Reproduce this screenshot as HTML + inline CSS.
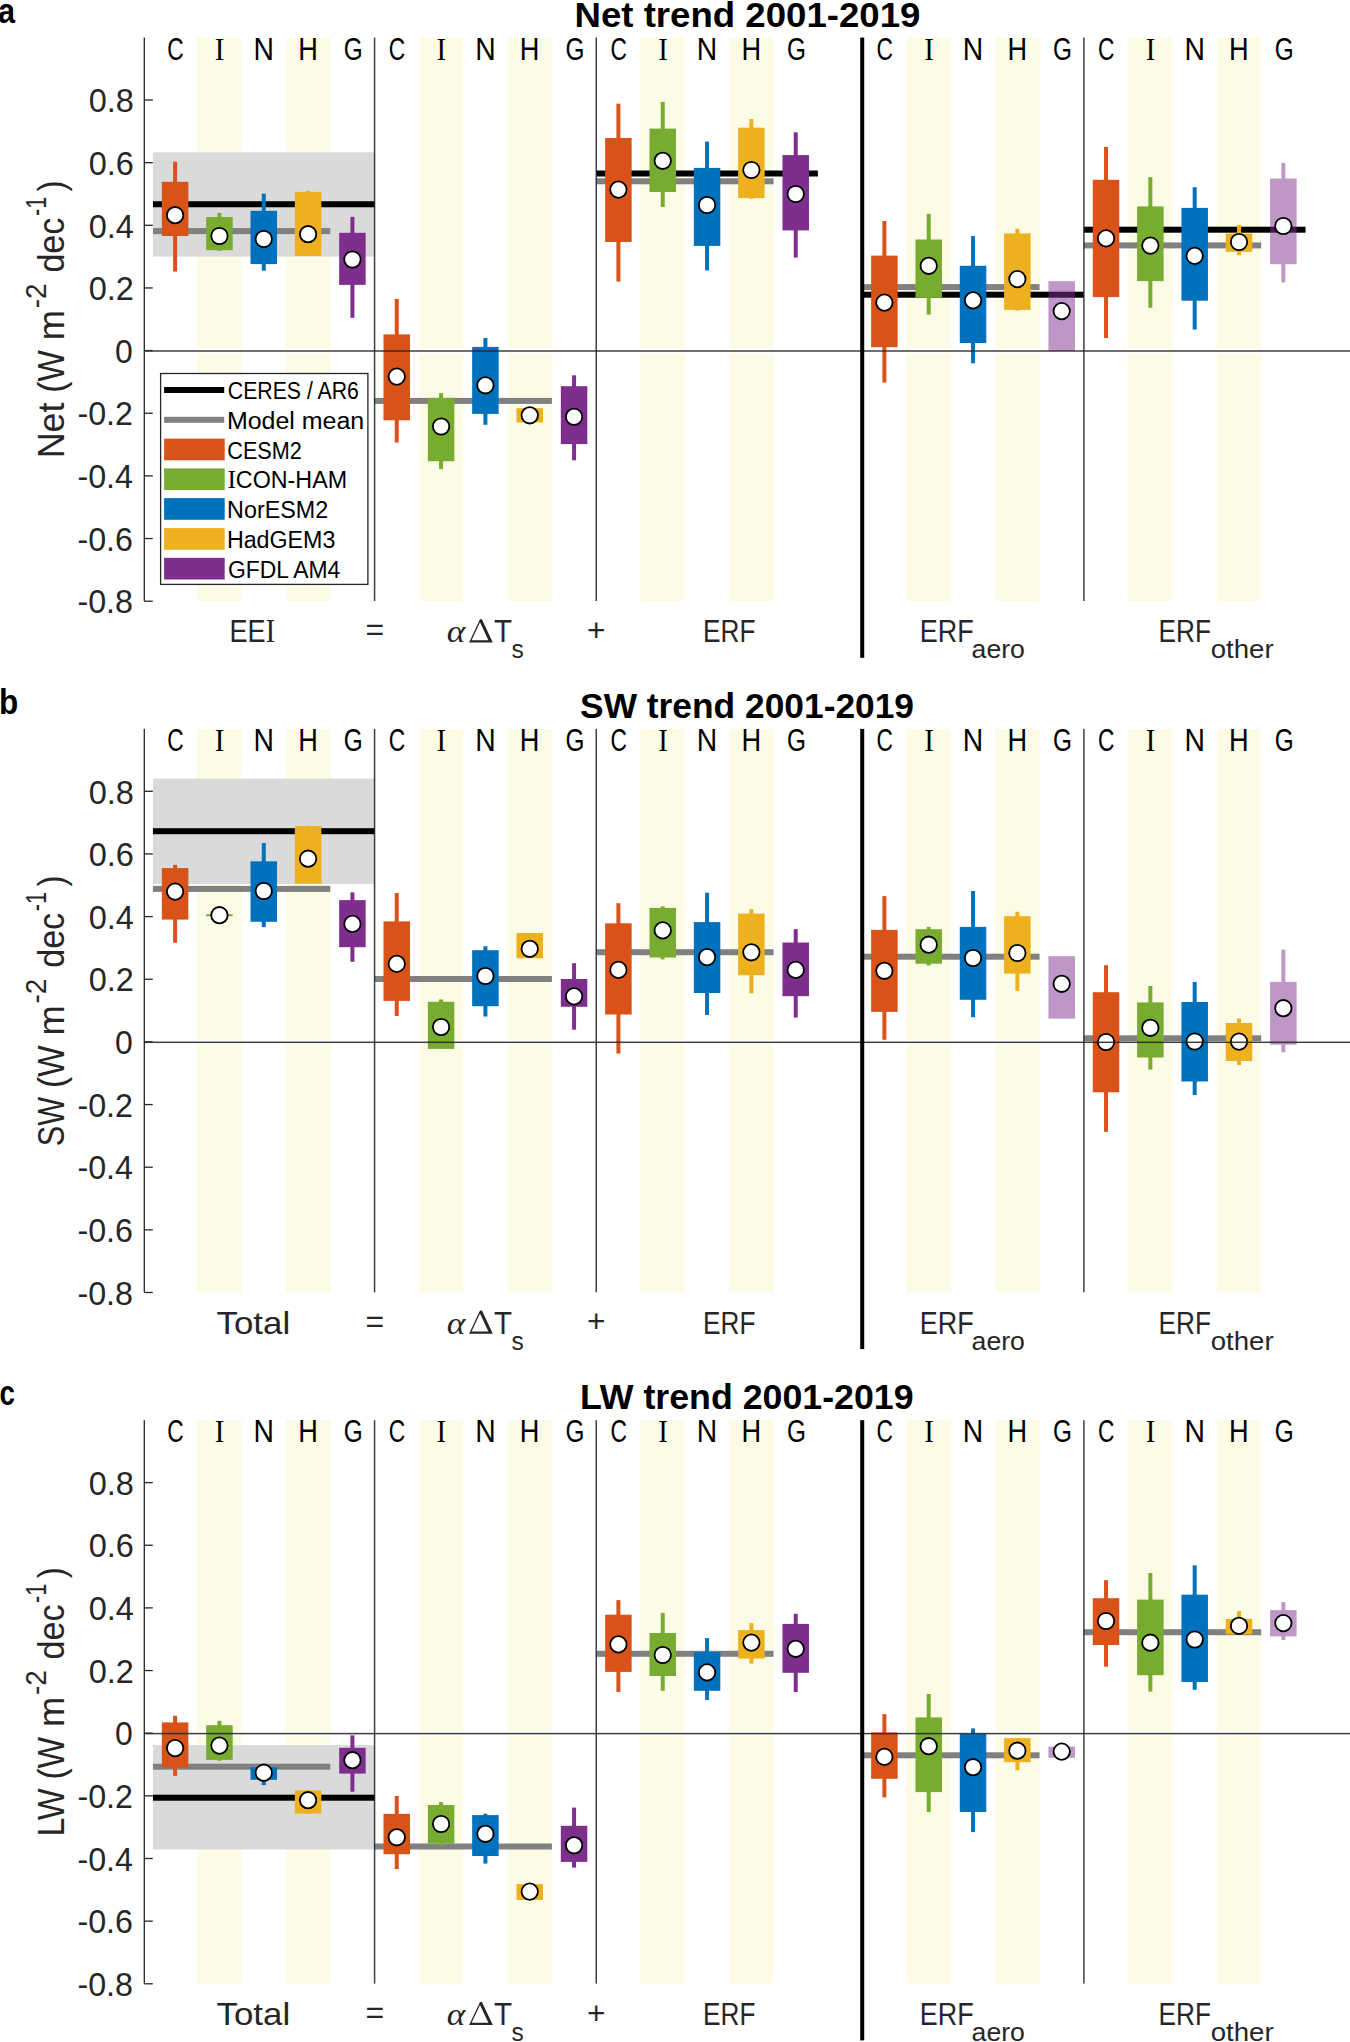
<!DOCTYPE html>
<html><head><meta charset="utf-8"><style>
html,body{margin:0;padding:0;background:#fff;}
svg{display:block;font-family:'Liberation Sans', sans-serif;}
</style></head><body>
<svg width="1350" height="2042" viewBox="0 0 1350 2042">
<rect width="1350" height="2042" fill="#fff"/>
<g>
<rect x="197.27" y="37.6" width="44.33" height="563.4" fill="#FCFBE6"/>
<rect x="197.27" y="348.7" width="44.33" height="4.6" fill="#fff"/>
<rect x="285.93" y="37.6" width="44.33" height="563.4" fill="#FCFBE6"/>
<rect x="285.93" y="348.7" width="44.33" height="4.6" fill="#fff"/>
<rect x="418.92" y="37.6" width="44.33" height="563.4" fill="#FCFBE6"/>
<rect x="418.92" y="348.7" width="44.33" height="4.6" fill="#fff"/>
<rect x="507.57" y="37.6" width="44.33" height="563.4" fill="#FCFBE6"/>
<rect x="507.57" y="348.7" width="44.33" height="4.6" fill="#fff"/>
<rect x="640.57" y="37.6" width="44.33" height="563.4" fill="#FCFBE6"/>
<rect x="640.57" y="348.7" width="44.33" height="4.6" fill="#fff"/>
<rect x="729.23" y="37.6" width="44.33" height="563.4" fill="#FCFBE6"/>
<rect x="729.23" y="348.7" width="44.33" height="4.6" fill="#fff"/>
<rect x="906.55" y="37.6" width="44.33" height="563.4" fill="#FCFBE6"/>
<rect x="906.55" y="348.7" width="44.33" height="4.6" fill="#fff"/>
<rect x="995.21" y="37.6" width="44.33" height="563.4" fill="#FCFBE6"/>
<rect x="995.21" y="348.7" width="44.33" height="4.6" fill="#fff"/>
<rect x="1128.19" y="37.6" width="44.33" height="563.4" fill="#FCFBE6"/>
<rect x="1128.19" y="348.7" width="44.33" height="4.6" fill="#fff"/>
<rect x="1216.86" y="37.6" width="44.33" height="563.4" fill="#FCFBE6"/>
<rect x="1216.86" y="348.7" width="44.33" height="4.6" fill="#fff"/>
<rect x="152.94" y="152.3" width="221.65" height="104.3" fill="#DADADA"/>
<rect x="152.94" y="228.1" width="177.32" height="6" fill="#808080"/>
<rect x="374.58" y="397.9" width="177.32" height="6" fill="#808080"/>
<rect x="596.24" y="178.3" width="177.32" height="6" fill="#808080"/>
<rect x="862.22" y="284.1" width="177.32" height="6" fill="#808080"/>
<rect x="1083.87" y="242.4" width="177.32" height="6" fill="#808080"/>
<rect x="152.94" y="201.25" width="221.65" height="6" fill="#000"/>
<rect x="596.24" y="170.5" width="221.65" height="6" fill="#000"/>
<rect x="862.22" y="291.7" width="221.65" height="6" fill="#000"/>
<rect x="1083.87" y="226.7" width="221.65" height="6" fill="#000"/>
<rect x="173.1" y="161.7" width="4" height="109.9" fill="#D95319"/>
<rect x="161.85" y="181.8" width="26.5" height="54.2" fill="#D95319"/>
<rect x="217.43" y="212.9" width="4" height="37.9" fill="#77AC30"/>
<rect x="206.18" y="217" width="26.5" height="33.2" fill="#77AC30"/>
<rect x="261.76" y="193.7" width="4" height="77" fill="#0072BD"/>
<rect x="250.51" y="210.8" width="26.5" height="53.3" fill="#0072BD"/>
<rect x="306.09" y="191" width="4" height="64.9" fill="#EDB120"/>
<rect x="294.84" y="191.9" width="26.5" height="64" fill="#EDB120"/>
<rect x="350.42" y="216.8" width="4" height="101" fill="#7E2F8E"/>
<rect x="339.17" y="232.8" width="26.5" height="52.1" fill="#7E2F8E"/>
<rect x="394.75" y="298.9" width="4" height="143.6" fill="#D95319"/>
<rect x="383.5" y="334.4" width="26.5" height="85.9" fill="#D95319"/>
<rect x="439.08" y="393.1" width="4" height="75.9" fill="#77AC30"/>
<rect x="427.83" y="397.9" width="26.5" height="63.3" fill="#77AC30"/>
<rect x="483.41" y="338" width="4" height="86.8" fill="#0072BD"/>
<rect x="472.16" y="346.9" width="26.5" height="67" fill="#0072BD"/>
<rect x="527.74" y="408.2" width="4" height="14.2" fill="#EDB120"/>
<rect x="516.49" y="408.2" width="26.5" height="14.2" fill="#EDB120"/>
<rect x="572.07" y="375.3" width="4" height="85" fill="#7E2F8E"/>
<rect x="560.82" y="386.2" width="26.5" height="57.9" fill="#7E2F8E"/>
<rect x="616.4" y="103.7" width="4" height="177.9" fill="#D95319"/>
<rect x="605.15" y="138" width="26.5" height="104" fill="#D95319"/>
<rect x="660.73" y="101.9" width="4" height="105.1" fill="#77AC30"/>
<rect x="649.48" y="128.6" width="26.5" height="63.4" fill="#77AC30"/>
<rect x="705.06" y="141.6" width="4" height="128.8" fill="#0072BD"/>
<rect x="693.81" y="167.9" width="26.5" height="78" fill="#0072BD"/>
<rect x="749.39" y="119" width="4" height="79.8" fill="#EDB120"/>
<rect x="738.14" y="127.7" width="26.5" height="70.4" fill="#EDB120"/>
<rect x="793.72" y="132.3" width="4" height="125.3" fill="#7E2F8E"/>
<rect x="782.47" y="155.1" width="26.5" height="75.3" fill="#7E2F8E"/>
<rect x="882.38" y="221" width="4" height="161.6" fill="#D95319"/>
<rect x="871.13" y="255.6" width="26.5" height="91.6" fill="#D95319"/>
<rect x="926.71" y="213.9" width="4" height="100.8" fill="#77AC30"/>
<rect x="915.46" y="239.5" width="26.5" height="58.3" fill="#77AC30"/>
<rect x="971.04" y="236.1" width="4" height="127.1" fill="#0072BD"/>
<rect x="959.79" y="265.8" width="26.5" height="77.3" fill="#0072BD"/>
<rect x="1015.37" y="228.8" width="4" height="81.8" fill="#EDB120"/>
<rect x="1004.12" y="233.4" width="26.5" height="76.5" fill="#EDB120"/>
<rect x="1048.45" y="281.2" width="26.5" height="69.9" fill="#7E2F8E" fill-opacity="0.5"/>
<rect x="1104.03" y="146.9" width="4" height="191.1" fill="#D95319"/>
<rect x="1092.78" y="179.8" width="26.5" height="117.3" fill="#D95319"/>
<rect x="1148.36" y="177.1" width="4" height="130.7" fill="#77AC30"/>
<rect x="1137.11" y="206.4" width="26.5" height="74.7" fill="#77AC30"/>
<rect x="1192.69" y="187.2" width="4" height="142.3" fill="#0072BD"/>
<rect x="1181.44" y="207.9" width="26.5" height="92.8" fill="#0072BD"/>
<rect x="1237.02" y="225.1" width="4" height="30.2" fill="#EDB120"/>
<rect x="1225.77" y="233.6" width="26.5" height="18.2" fill="#EDB120"/>
<rect x="1281.35" y="162.9" width="4" height="15.6" fill="#7E2F8E" fill-opacity="0.5"/>
<rect x="1281.35" y="264.2" width="4" height="18.3" fill="#7E2F8E" fill-opacity="0.5"/>
<rect x="1270.1" y="178.5" width="26.5" height="85.7" fill="#7E2F8E" fill-opacity="0.5"/>
<circle cx="175.1" cy="215.2" r="8.2" fill="#fff" stroke="#000" stroke-width="1.8"/>
<circle cx="219.43" cy="236" r="8.2" fill="#fff" stroke="#000" stroke-width="1.8"/>
<circle cx="263.76" cy="239" r="8.2" fill="#fff" stroke="#000" stroke-width="1.8"/>
<circle cx="308.09" cy="234.2" r="8.2" fill="#fff" stroke="#000" stroke-width="1.8"/>
<circle cx="352.42" cy="259.5" r="8.2" fill="#fff" stroke="#000" stroke-width="1.8"/>
<circle cx="396.75" cy="376.6" r="8.2" fill="#fff" stroke="#000" stroke-width="1.8"/>
<circle cx="441.08" cy="426.5" r="8.2" fill="#fff" stroke="#000" stroke-width="1.8"/>
<circle cx="485.41" cy="385.3" r="8.2" fill="#fff" stroke="#000" stroke-width="1.8"/>
<circle cx="529.74" cy="415.3" r="8.2" fill="#fff" stroke="#000" stroke-width="1.8"/>
<circle cx="574.07" cy="416.8" r="8.2" fill="#fff" stroke="#000" stroke-width="1.8"/>
<circle cx="618.4" cy="189.6" r="8.2" fill="#fff" stroke="#000" stroke-width="1.8"/>
<circle cx="662.73" cy="160.8" r="8.2" fill="#fff" stroke="#000" stroke-width="1.8"/>
<circle cx="707.06" cy="205" r="8.2" fill="#fff" stroke="#000" stroke-width="1.8"/>
<circle cx="751.39" cy="170" r="8.2" fill="#fff" stroke="#000" stroke-width="1.8"/>
<circle cx="795.72" cy="194" r="8.2" fill="#fff" stroke="#000" stroke-width="1.8"/>
<circle cx="884.38" cy="302.6" r="8.2" fill="#fff" stroke="#000" stroke-width="1.8"/>
<circle cx="928.71" cy="265.8" r="8.2" fill="#fff" stroke="#000" stroke-width="1.8"/>
<circle cx="973.04" cy="300.4" r="8.2" fill="#fff" stroke="#000" stroke-width="1.8"/>
<circle cx="1017.37" cy="279.1" r="8.2" fill="#fff" stroke="#000" stroke-width="1.8"/>
<circle cx="1061.7" cy="311.1" r="8.2" fill="#fff" stroke="#000" stroke-width="1.8"/>
<circle cx="1106.03" cy="238.4" r="8.2" fill="#fff" stroke="#000" stroke-width="1.8"/>
<circle cx="1150.36" cy="245.6" r="8.2" fill="#fff" stroke="#000" stroke-width="1.8"/>
<circle cx="1194.69" cy="255.9" r="8.2" fill="#fff" stroke="#000" stroke-width="1.8"/>
<circle cx="1239.02" cy="242" r="8.2" fill="#fff" stroke="#000" stroke-width="1.8"/>
<circle cx="1283.35" cy="226" r="8.2" fill="#fff" stroke="#000" stroke-width="1.8"/>
<rect x="144.3" y="350.25" width="1205.7" height="1.5" fill="#262626" fill-opacity="0.88"/>
<rect x="373.83" y="37.6" width="1.5" height="563.4" fill="#262626" fill-opacity="0.88"/>
<rect x="595.49" y="37.6" width="1.5" height="563.4" fill="#262626" fill-opacity="0.88"/>
<rect x="1083.12" y="37.6" width="1.5" height="563.4" fill="#262626" fill-opacity="0.88"/>
<rect x="860.22" y="37.6" width="4" height="620.2" fill="#000"/>
<rect x="143.65" y="37.6" width="1.3" height="563.4" fill="#262626"/>
<rect x="144.3" y="600.55" width="8.5" height="1.3" fill="#262626"/>
<rect x="144.3" y="537.9" width="8.5" height="1.3" fill="#262626"/>
<rect x="144.3" y="475.25" width="8.5" height="1.3" fill="#262626"/>
<rect x="144.3" y="412.6" width="8.5" height="1.3" fill="#262626"/>
<rect x="144.3" y="349.95" width="8.5" height="1.3" fill="#262626"/>
<rect x="144.3" y="287.3" width="8.5" height="1.3" fill="#262626"/>
<rect x="144.3" y="224.65" width="8.5" height="1.3" fill="#262626"/>
<rect x="144.3" y="162" width="8.5" height="1.3" fill="#262626"/>
<rect x="144.3" y="99.35" width="8.5" height="1.3" fill="#262626"/>
</g>
<g>
<rect x="197.27" y="728.9" width="44.33" height="563.4" fill="#FCFBE6"/>
<rect x="197.27" y="1040" width="44.33" height="4.6" fill="#fff"/>
<rect x="285.93" y="728.9" width="44.33" height="563.4" fill="#FCFBE6"/>
<rect x="285.93" y="1040" width="44.33" height="4.6" fill="#fff"/>
<rect x="418.92" y="728.9" width="44.33" height="563.4" fill="#FCFBE6"/>
<rect x="418.92" y="1040" width="44.33" height="4.6" fill="#fff"/>
<rect x="507.57" y="728.9" width="44.33" height="563.4" fill="#FCFBE6"/>
<rect x="507.57" y="1040" width="44.33" height="4.6" fill="#fff"/>
<rect x="640.57" y="728.9" width="44.33" height="563.4" fill="#FCFBE6"/>
<rect x="640.57" y="1040" width="44.33" height="4.6" fill="#fff"/>
<rect x="729.23" y="728.9" width="44.33" height="563.4" fill="#FCFBE6"/>
<rect x="729.23" y="1040" width="44.33" height="4.6" fill="#fff"/>
<rect x="906.55" y="728.9" width="44.33" height="563.4" fill="#FCFBE6"/>
<rect x="906.55" y="1040" width="44.33" height="4.6" fill="#fff"/>
<rect x="995.21" y="728.9" width="44.33" height="563.4" fill="#FCFBE6"/>
<rect x="995.21" y="1040" width="44.33" height="4.6" fill="#fff"/>
<rect x="1128.19" y="728.9" width="44.33" height="563.4" fill="#FCFBE6"/>
<rect x="1128.19" y="1040" width="44.33" height="4.6" fill="#fff"/>
<rect x="1216.86" y="728.9" width="44.33" height="563.4" fill="#FCFBE6"/>
<rect x="1216.86" y="1040" width="44.33" height="4.6" fill="#fff"/>
<rect x="152.94" y="778.7" width="221.65" height="105.2" fill="#DADADA"/>
<rect x="152.94" y="885.9" width="177.32" height="6" fill="#808080"/>
<rect x="374.58" y="976" width="177.32" height="6" fill="#808080"/>
<rect x="596.24" y="949.2" width="177.32" height="6" fill="#808080"/>
<rect x="862.22" y="953.7" width="177.32" height="6" fill="#808080"/>
<rect x="1083.87" y="1035.3" width="177.32" height="6" fill="#808080"/>
<rect x="152.94" y="828.2" width="221.65" height="6" fill="#000"/>
<rect x="173.1" y="864.9" width="4" height="77.9" fill="#D95319"/>
<rect x="161.85" y="868.1" width="26.5" height="51.5" fill="#D95319"/>
<rect x="217.43" y="914.2" width="4" height="2" fill="#77AC30"/>
<rect x="206.18" y="914.2" width="26.5" height="2" fill="#77AC30"/>
<rect x="261.76" y="843" width="4" height="84.1" fill="#0072BD"/>
<rect x="250.51" y="861.3" width="26.5" height="60.5" fill="#0072BD"/>
<rect x="306.09" y="825.8" width="4" height="57.8" fill="#EDB120"/>
<rect x="294.84" y="826.1" width="26.5" height="57.5" fill="#EDB120"/>
<rect x="350.42" y="892.4" width="4" height="69.4" fill="#7E2F8E"/>
<rect x="339.17" y="900.1" width="26.5" height="47.1" fill="#7E2F8E"/>
<rect x="394.75" y="893" width="4" height="123" fill="#D95319"/>
<rect x="383.5" y="921.4" width="26.5" height="79.5" fill="#D95319"/>
<rect x="439.08" y="999.5" width="4" height="49.4" fill="#77AC30"/>
<rect x="427.83" y="1001.8" width="26.5" height="47.1" fill="#77AC30"/>
<rect x="483.41" y="946.3" width="4" height="70.2" fill="#0072BD"/>
<rect x="472.16" y="950.2" width="26.5" height="56" fill="#0072BD"/>
<rect x="527.74" y="933" width="4" height="25.2" fill="#EDB120"/>
<rect x="516.49" y="933" width="26.5" height="25.2" fill="#EDB120"/>
<rect x="572.07" y="963.2" width="4" height="66.5" fill="#7E2F8E"/>
<rect x="560.82" y="979" width="26.5" height="27.8" fill="#7E2F8E"/>
<rect x="616.4" y="903.2" width="4" height="150.4" fill="#D95319"/>
<rect x="605.15" y="923.3" width="26.5" height="91.2" fill="#D95319"/>
<rect x="660.73" y="906.4" width="4" height="53" fill="#77AC30"/>
<rect x="649.48" y="907.9" width="26.5" height="49.6" fill="#77AC30"/>
<rect x="705.06" y="892.8" width="4" height="122.1" fill="#0072BD"/>
<rect x="693.81" y="922.1" width="26.5" height="70.9" fill="#0072BD"/>
<rect x="749.39" y="909.1" width="4" height="84.1" fill="#EDB120"/>
<rect x="738.14" y="913.6" width="26.5" height="61.6" fill="#EDB120"/>
<rect x="793.72" y="929.2" width="4" height="88.4" fill="#7E2F8E"/>
<rect x="782.47" y="942.5" width="26.5" height="53.7" fill="#7E2F8E"/>
<rect x="882.38" y="896.1" width="4" height="143.7" fill="#D95319"/>
<rect x="871.13" y="929.9" width="26.5" height="82" fill="#D95319"/>
<rect x="926.71" y="926.9" width="4" height="38.6" fill="#77AC30"/>
<rect x="915.46" y="929.2" width="26.5" height="34.5" fill="#77AC30"/>
<rect x="971.04" y="891" width="4" height="126.2" fill="#0072BD"/>
<rect x="959.79" y="926.9" width="26.5" height="72.9" fill="#0072BD"/>
<rect x="1015.37" y="911.8" width="4" height="79.1" fill="#EDB120"/>
<rect x="1004.12" y="916.2" width="26.5" height="57.4" fill="#EDB120"/>
<rect x="1048.45" y="956.2" width="26.5" height="62.4" fill="#7E2F8E" fill-opacity="0.5"/>
<rect x="1104.03" y="965.2" width="4" height="166.7" fill="#D95319"/>
<rect x="1092.78" y="992.2" width="26.5" height="100.1" fill="#D95319"/>
<rect x="1148.36" y="986" width="4" height="83.6" fill="#77AC30"/>
<rect x="1137.11" y="1002.4" width="26.5" height="55.1" fill="#77AC30"/>
<rect x="1192.69" y="981.9" width="4" height="113.1" fill="#0072BD"/>
<rect x="1181.44" y="1002" width="26.5" height="79.5" fill="#0072BD"/>
<rect x="1237.02" y="1018.5" width="4" height="46.6" fill="#EDB120"/>
<rect x="1225.77" y="1023" width="26.5" height="38" fill="#EDB120"/>
<rect x="1281.35" y="949.6" width="4" height="32.3" fill="#7E2F8E" fill-opacity="0.5"/>
<rect x="1281.35" y="1044.7" width="4" height="7.6" fill="#7E2F8E" fill-opacity="0.5"/>
<rect x="1270.1" y="981.9" width="26.5" height="62.8" fill="#7E2F8E" fill-opacity="0.5"/>
<circle cx="175.1" cy="891.6" r="8.2" fill="#fff" stroke="#000" stroke-width="1.8"/>
<circle cx="219.43" cy="915.2" r="8.2" fill="#fff" stroke="#000" stroke-width="1.8"/>
<circle cx="263.76" cy="891" r="8.2" fill="#fff" stroke="#000" stroke-width="1.8"/>
<circle cx="308.09" cy="858.7" r="8.2" fill="#fff" stroke="#000" stroke-width="1.8"/>
<circle cx="352.42" cy="923.9" r="8.2" fill="#fff" stroke="#000" stroke-width="1.8"/>
<circle cx="396.75" cy="963.9" r="8.2" fill="#fff" stroke="#000" stroke-width="1.8"/>
<circle cx="441.08" cy="1027" r="8.2" fill="#fff" stroke="#000" stroke-width="1.8"/>
<circle cx="485.41" cy="976" r="8.2" fill="#fff" stroke="#000" stroke-width="1.8"/>
<circle cx="529.74" cy="948.8" r="8.2" fill="#fff" stroke="#000" stroke-width="1.8"/>
<circle cx="574.07" cy="996.4" r="8.2" fill="#fff" stroke="#000" stroke-width="1.8"/>
<circle cx="618.4" cy="969.9" r="8.2" fill="#fff" stroke="#000" stroke-width="1.8"/>
<circle cx="662.73" cy="930.4" r="8.2" fill="#fff" stroke="#000" stroke-width="1.8"/>
<circle cx="707.06" cy="957.1" r="8.2" fill="#fff" stroke="#000" stroke-width="1.8"/>
<circle cx="751.39" cy="952.3" r="8.2" fill="#fff" stroke="#000" stroke-width="1.8"/>
<circle cx="795.72" cy="969.9" r="8.2" fill="#fff" stroke="#000" stroke-width="1.8"/>
<circle cx="884.38" cy="970.8" r="8.2" fill="#fff" stroke="#000" stroke-width="1.8"/>
<circle cx="928.71" cy="944.7" r="8.2" fill="#fff" stroke="#000" stroke-width="1.8"/>
<circle cx="973.04" cy="958" r="8.2" fill="#fff" stroke="#000" stroke-width="1.8"/>
<circle cx="1017.37" cy="953" r="8.2" fill="#fff" stroke="#000" stroke-width="1.8"/>
<circle cx="1061.7" cy="983.8" r="8.2" fill="#fff" stroke="#000" stroke-width="1.8"/>
<circle cx="1106.03" cy="1042" r="8.2" fill="#fff" stroke="#000" stroke-width="1.8"/>
<circle cx="1150.36" cy="1027.8" r="8.2" fill="#fff" stroke="#000" stroke-width="1.8"/>
<circle cx="1194.69" cy="1041.5" r="8.2" fill="#fff" stroke="#000" stroke-width="1.8"/>
<circle cx="1239.02" cy="1041.6" r="8.2" fill="#fff" stroke="#000" stroke-width="1.8"/>
<circle cx="1283.35" cy="1008.2" r="8.2" fill="#fff" stroke="#000" stroke-width="1.8"/>
<rect x="144.3" y="1041.55" width="1205.7" height="1.5" fill="#262626" fill-opacity="0.88"/>
<rect x="373.83" y="728.9" width="1.5" height="563.4" fill="#262626" fill-opacity="0.88"/>
<rect x="595.49" y="728.9" width="1.5" height="563.4" fill="#262626" fill-opacity="0.88"/>
<rect x="1083.12" y="728.9" width="1.5" height="563.4" fill="#262626" fill-opacity="0.88"/>
<rect x="860.22" y="728.9" width="4" height="620.2" fill="#000"/>
<rect x="143.65" y="728.9" width="1.3" height="563.4" fill="#262626"/>
<rect x="144.3" y="1291.85" width="8.5" height="1.3" fill="#262626"/>
<rect x="144.3" y="1229.2" width="8.5" height="1.3" fill="#262626"/>
<rect x="144.3" y="1166.55" width="8.5" height="1.3" fill="#262626"/>
<rect x="144.3" y="1103.9" width="8.5" height="1.3" fill="#262626"/>
<rect x="144.3" y="1041.25" width="8.5" height="1.3" fill="#262626"/>
<rect x="144.3" y="978.6" width="8.5" height="1.3" fill="#262626"/>
<rect x="144.3" y="915.95" width="8.5" height="1.3" fill="#262626"/>
<rect x="144.3" y="853.3" width="8.5" height="1.3" fill="#262626"/>
<rect x="144.3" y="790.65" width="8.5" height="1.3" fill="#262626"/>
</g>
<g>
<rect x="197.27" y="1420.2" width="44.33" height="563.4" fill="#FCFBE6"/>
<rect x="197.27" y="1731.3" width="44.33" height="4.6" fill="#fff"/>
<rect x="285.93" y="1420.2" width="44.33" height="563.4" fill="#FCFBE6"/>
<rect x="285.93" y="1731.3" width="44.33" height="4.6" fill="#fff"/>
<rect x="418.92" y="1420.2" width="44.33" height="563.4" fill="#FCFBE6"/>
<rect x="418.92" y="1731.3" width="44.33" height="4.6" fill="#fff"/>
<rect x="507.57" y="1420.2" width="44.33" height="563.4" fill="#FCFBE6"/>
<rect x="507.57" y="1731.3" width="44.33" height="4.6" fill="#fff"/>
<rect x="640.57" y="1420.2" width="44.33" height="563.4" fill="#FCFBE6"/>
<rect x="640.57" y="1731.3" width="44.33" height="4.6" fill="#fff"/>
<rect x="729.23" y="1420.2" width="44.33" height="563.4" fill="#FCFBE6"/>
<rect x="729.23" y="1731.3" width="44.33" height="4.6" fill="#fff"/>
<rect x="906.55" y="1420.2" width="44.33" height="563.4" fill="#FCFBE6"/>
<rect x="906.55" y="1731.3" width="44.33" height="4.6" fill="#fff"/>
<rect x="995.21" y="1420.2" width="44.33" height="563.4" fill="#FCFBE6"/>
<rect x="995.21" y="1731.3" width="44.33" height="4.6" fill="#fff"/>
<rect x="1128.19" y="1420.2" width="44.33" height="563.4" fill="#FCFBE6"/>
<rect x="1128.19" y="1731.3" width="44.33" height="4.6" fill="#fff"/>
<rect x="1216.86" y="1420.2" width="44.33" height="563.4" fill="#FCFBE6"/>
<rect x="1216.86" y="1731.3" width="44.33" height="4.6" fill="#fff"/>
<rect x="152.94" y="1745.1" width="221.65" height="104.4" fill="#DADADA"/>
<rect x="152.94" y="1763.7" width="177.32" height="6" fill="#808080"/>
<rect x="374.58" y="1843.5" width="177.32" height="6" fill="#808080"/>
<rect x="596.24" y="1650.8" width="177.32" height="6" fill="#808080"/>
<rect x="862.22" y="1752.3" width="177.32" height="6" fill="#808080"/>
<rect x="1083.87" y="1629.2" width="177.32" height="6" fill="#808080"/>
<rect x="152.94" y="1794.7" width="221.65" height="6" fill="#000"/>
<rect x="173.1" y="1715.8" width="4" height="60.1" fill="#D95319"/>
<rect x="161.85" y="1722.4" width="26.5" height="45.3" fill="#D95319"/>
<rect x="217.43" y="1720.8" width="4" height="40" fill="#77AC30"/>
<rect x="206.18" y="1725.2" width="26.5" height="34.7" fill="#77AC30"/>
<rect x="261.76" y="1767.3" width="4" height="17.8" fill="#0072BD"/>
<rect x="250.51" y="1767.3" width="26.5" height="12.5" fill="#0072BD"/>
<rect x="306.09" y="1790.4" width="4" height="23.2" fill="#EDB120"/>
<rect x="294.84" y="1790.4" width="26.5" height="23.2" fill="#EDB120"/>
<rect x="350.42" y="1735.3" width="4" height="56.4" fill="#7E2F8E"/>
<rect x="339.17" y="1747.8" width="26.5" height="25.8" fill="#7E2F8E"/>
<rect x="394.75" y="1795.9" width="4" height="73.1" fill="#D95319"/>
<rect x="383.5" y="1813.9" width="26.5" height="40.3" fill="#D95319"/>
<rect x="439.08" y="1802.1" width="4" height="44.1" fill="#77AC30"/>
<rect x="427.83" y="1805" width="26.5" height="38.6" fill="#77AC30"/>
<rect x="483.41" y="1813.7" width="4" height="49.9" fill="#0072BD"/>
<rect x="472.16" y="1815.1" width="26.5" height="40.9" fill="#0072BD"/>
<rect x="527.74" y="1884.1" width="4" height="15.8" fill="#EDB120"/>
<rect x="516.49" y="1884.1" width="26.5" height="15.8" fill="#EDB120"/>
<rect x="572.07" y="1807.6" width="4" height="60" fill="#7E2F8E"/>
<rect x="560.82" y="1825.8" width="26.5" height="36.1" fill="#7E2F8E"/>
<rect x="616.4" y="1600.1" width="4" height="91.9" fill="#D95319"/>
<rect x="605.15" y="1614.7" width="26.5" height="57.2" fill="#D95319"/>
<rect x="660.73" y="1612.9" width="4" height="77.9" fill="#77AC30"/>
<rect x="649.48" y="1633" width="26.5" height="43" fill="#77AC30"/>
<rect x="705.06" y="1638.1" width="4" height="61.9" fill="#0072BD"/>
<rect x="693.81" y="1652" width="26.5" height="38.8" fill="#0072BD"/>
<rect x="749.39" y="1623.2" width="4" height="40.4" fill="#EDB120"/>
<rect x="738.14" y="1630.1" width="26.5" height="28.5" fill="#EDB120"/>
<rect x="793.72" y="1613.8" width="4" height="78.2" fill="#7E2F8E"/>
<rect x="782.47" y="1623.9" width="26.5" height="48.9" fill="#7E2F8E"/>
<rect x="882.38" y="1714.2" width="4" height="83.2" fill="#D95319"/>
<rect x="871.13" y="1732.4" width="26.5" height="46.4" fill="#D95319"/>
<rect x="926.71" y="1694" width="4" height="118" fill="#77AC30"/>
<rect x="915.46" y="1717.4" width="26.5" height="74.7" fill="#77AC30"/>
<rect x="971.04" y="1728.4" width="4" height="103.7" fill="#0072BD"/>
<rect x="959.79" y="1733.8" width="26.5" height="78.2" fill="#0072BD"/>
<rect x="1015.37" y="1738.2" width="4" height="32" fill="#EDB120"/>
<rect x="1004.12" y="1738.2" width="26.5" height="24" fill="#EDB120"/>
<rect x="1048.45" y="1746.6" width="26.5" height="11.2" fill="#7E2F8E" fill-opacity="0.5"/>
<rect x="1104.03" y="1580.1" width="4" height="86.6" fill="#D95319"/>
<rect x="1092.78" y="1598.2" width="26.5" height="46.8" fill="#D95319"/>
<rect x="1148.36" y="1573" width="4" height="118.6" fill="#77AC30"/>
<rect x="1137.11" y="1599.6" width="26.5" height="75.6" fill="#77AC30"/>
<rect x="1192.69" y="1565.3" width="4" height="124.5" fill="#0072BD"/>
<rect x="1181.44" y="1594.7" width="26.5" height="87.3" fill="#0072BD"/>
<rect x="1237.02" y="1611" width="4" height="23.3" fill="#EDB120"/>
<rect x="1225.77" y="1619" width="26.5" height="15.3" fill="#EDB120"/>
<rect x="1281.35" y="1602.1" width="4" height="8" fill="#7E2F8E" fill-opacity="0.5"/>
<rect x="1281.35" y="1636.4" width="4" height="3.6" fill="#7E2F8E" fill-opacity="0.5"/>
<rect x="1270.1" y="1610.1" width="26.5" height="26.3" fill="#7E2F8E" fill-opacity="0.5"/>
<circle cx="175.1" cy="1748.1" r="8.2" fill="#fff" stroke="#000" stroke-width="1.8"/>
<circle cx="219.43" cy="1745.6" r="8.2" fill="#fff" stroke="#000" stroke-width="1.8"/>
<circle cx="263.76" cy="1772.7" r="8.2" fill="#fff" stroke="#000" stroke-width="1.8"/>
<circle cx="308.09" cy="1800.2" r="8.2" fill="#fff" stroke="#000" stroke-width="1.8"/>
<circle cx="352.42" cy="1760.2" r="8.2" fill="#fff" stroke="#000" stroke-width="1.8"/>
<circle cx="396.75" cy="1837.3" r="8.2" fill="#fff" stroke="#000" stroke-width="1.8"/>
<circle cx="441.08" cy="1824" r="8.2" fill="#fff" stroke="#000" stroke-width="1.8"/>
<circle cx="485.41" cy="1833.8" r="8.2" fill="#fff" stroke="#000" stroke-width="1.8"/>
<circle cx="529.74" cy="1891.6" r="8.2" fill="#fff" stroke="#000" stroke-width="1.8"/>
<circle cx="574.07" cy="1845.3" r="8.2" fill="#fff" stroke="#000" stroke-width="1.8"/>
<circle cx="618.4" cy="1644.4" r="8.2" fill="#fff" stroke="#000" stroke-width="1.8"/>
<circle cx="662.73" cy="1655" r="8.2" fill="#fff" stroke="#000" stroke-width="1.8"/>
<circle cx="707.06" cy="1672.4" r="8.2" fill="#fff" stroke="#000" stroke-width="1.8"/>
<circle cx="751.39" cy="1642.6" r="8.2" fill="#fff" stroke="#000" stroke-width="1.8"/>
<circle cx="795.72" cy="1648.8" r="8.2" fill="#fff" stroke="#000" stroke-width="1.8"/>
<circle cx="884.38" cy="1756.9" r="8.2" fill="#fff" stroke="#000" stroke-width="1.8"/>
<circle cx="928.71" cy="1746.2" r="8.2" fill="#fff" stroke="#000" stroke-width="1.8"/>
<circle cx="973.04" cy="1767.2" r="8.2" fill="#fff" stroke="#000" stroke-width="1.8"/>
<circle cx="1017.37" cy="1750.7" r="8.2" fill="#fff" stroke="#000" stroke-width="1.8"/>
<circle cx="1061.7" cy="1751.6" r="8.2" fill="#fff" stroke="#000" stroke-width="1.8"/>
<circle cx="1106.03" cy="1621" r="8.2" fill="#fff" stroke="#000" stroke-width="1.8"/>
<circle cx="1150.36" cy="1642.7" r="8.2" fill="#fff" stroke="#000" stroke-width="1.8"/>
<circle cx="1194.69" cy="1639.5" r="8.2" fill="#fff" stroke="#000" stroke-width="1.8"/>
<circle cx="1239.02" cy="1625.8" r="8.2" fill="#fff" stroke="#000" stroke-width="1.8"/>
<circle cx="1283.35" cy="1623.1" r="8.2" fill="#fff" stroke="#000" stroke-width="1.8"/>
<rect x="144.3" y="1732.85" width="1205.7" height="1.5" fill="#262626" fill-opacity="0.88"/>
<rect x="373.83" y="1420.2" width="1.5" height="563.4" fill="#262626" fill-opacity="0.88"/>
<rect x="595.49" y="1420.2" width="1.5" height="563.4" fill="#262626" fill-opacity="0.88"/>
<rect x="1083.12" y="1420.2" width="1.5" height="563.4" fill="#262626" fill-opacity="0.88"/>
<rect x="860.22" y="1420.2" width="4" height="620.2" fill="#000"/>
<rect x="143.65" y="1420.2" width="1.3" height="563.4" fill="#262626"/>
<rect x="144.3" y="1983.15" width="8.5" height="1.3" fill="#262626"/>
<rect x="144.3" y="1920.5" width="8.5" height="1.3" fill="#262626"/>
<rect x="144.3" y="1857.85" width="8.5" height="1.3" fill="#262626"/>
<rect x="144.3" y="1795.2" width="8.5" height="1.3" fill="#262626"/>
<rect x="144.3" y="1732.55" width="8.5" height="1.3" fill="#262626"/>
<rect x="144.3" y="1669.9" width="8.5" height="1.3" fill="#262626"/>
<rect x="144.3" y="1607.25" width="8.5" height="1.3" fill="#262626"/>
<rect x="144.3" y="1544.6" width="8.5" height="1.3" fill="#262626"/>
<rect x="144.3" y="1481.95" width="8.5" height="1.3" fill="#262626"/>
</g>
<rect x="160.6" y="373.5" width="207.3" height="210.9" fill="#fff" stroke="#262626" stroke-width="1.3"/>
<rect x="164.1" y="387" width="60.1" height="6" fill="#000"/>
<rect x="164.1" y="416.8" width="60.1" height="6" fill="#808080"/>
<rect x="164.1" y="438.6" width="60.6" height="21.7" fill="#D95319"/>
<rect x="164.1" y="468.4" width="60.6" height="21.7" fill="#77AC30"/>
<rect x="164.1" y="498.1" width="60.6" height="21.7" fill="#0072BD"/>
<rect x="164.1" y="528.1" width="60.6" height="21.7" fill="#EDB120"/>
<rect x="164.1" y="557.8" width="60.6" height="21.7" fill="#7E2F8E"/>
<text x="574.5" y="26.7" font-size="35" font-weight="bold" textLength="345.87" lengthAdjust="spacingAndGlyphs" fill="#000">Net trend 2001-2019</text>
<text x="-2.1" y="22.8" font-size="34.5" font-weight="bold" textLength="17.07" lengthAdjust="spacingAndGlyphs" fill="#000">a</text>
<text x="175.4" y="59.6" font-size="30.5" text-anchor="middle" textLength="16.42" lengthAdjust="spacingAndGlyphs" fill="#000">C</text>
<text x="219.68" y="59.6" font-size="30.5" font-family="'Liberation Serif'" text-anchor="middle" textLength="9.62" lengthAdjust="spacingAndGlyphs" fill="#000">I</text>
<text x="263.76" y="59.6" font-size="30.5" text-anchor="middle" textLength="20.44" lengthAdjust="spacingAndGlyphs" fill="#000">N</text>
<text x="307.99" y="59.6" font-size="30.5" text-anchor="middle" textLength="19.62" lengthAdjust="spacingAndGlyphs" fill="#000">H</text>
<text x="353.22" y="59.6" font-size="30.5" text-anchor="middle" textLength="18.94" lengthAdjust="spacingAndGlyphs" fill="#000">G</text>
<text x="397.05" y="59.6" font-size="30.5" text-anchor="middle" textLength="16.42" lengthAdjust="spacingAndGlyphs" fill="#000">C</text>
<text x="441.33" y="59.6" font-size="30.5" font-family="'Liberation Serif'" text-anchor="middle" textLength="9.62" lengthAdjust="spacingAndGlyphs" fill="#000">I</text>
<text x="485.41" y="59.6" font-size="30.5" text-anchor="middle" textLength="20.44" lengthAdjust="spacingAndGlyphs" fill="#000">N</text>
<text x="529.64" y="59.6" font-size="30.5" text-anchor="middle" textLength="19.62" lengthAdjust="spacingAndGlyphs" fill="#000">H</text>
<text x="574.87" y="59.6" font-size="30.5" text-anchor="middle" textLength="18.94" lengthAdjust="spacingAndGlyphs" fill="#000">G</text>
<text x="618.7" y="59.6" font-size="30.5" text-anchor="middle" textLength="16.42" lengthAdjust="spacingAndGlyphs" fill="#000">C</text>
<text x="662.98" y="59.6" font-size="30.5" font-family="'Liberation Serif'" text-anchor="middle" textLength="9.62" lengthAdjust="spacingAndGlyphs" fill="#000">I</text>
<text x="707.06" y="59.6" font-size="30.5" text-anchor="middle" textLength="20.44" lengthAdjust="spacingAndGlyphs" fill="#000">N</text>
<text x="751.29" y="59.6" font-size="30.5" text-anchor="middle" textLength="19.62" lengthAdjust="spacingAndGlyphs" fill="#000">H</text>
<text x="796.52" y="59.6" font-size="30.5" text-anchor="middle" textLength="18.94" lengthAdjust="spacingAndGlyphs" fill="#000">G</text>
<text x="884.68" y="59.6" font-size="30.5" text-anchor="middle" textLength="16.42" lengthAdjust="spacingAndGlyphs" fill="#000">C</text>
<text x="928.96" y="59.6" font-size="30.5" font-family="'Liberation Serif'" text-anchor="middle" textLength="9.62" lengthAdjust="spacingAndGlyphs" fill="#000">I</text>
<text x="973.04" y="59.6" font-size="30.5" text-anchor="middle" textLength="20.44" lengthAdjust="spacingAndGlyphs" fill="#000">N</text>
<text x="1017.27" y="59.6" font-size="30.5" text-anchor="middle" textLength="19.62" lengthAdjust="spacingAndGlyphs" fill="#000">H</text>
<text x="1062.5" y="59.6" font-size="30.5" text-anchor="middle" textLength="18.94" lengthAdjust="spacingAndGlyphs" fill="#000">G</text>
<text x="1106.33" y="59.6" font-size="30.5" text-anchor="middle" textLength="16.42" lengthAdjust="spacingAndGlyphs" fill="#000">C</text>
<text x="1150.61" y="59.6" font-size="30.5" font-family="'Liberation Serif'" text-anchor="middle" textLength="9.62" lengthAdjust="spacingAndGlyphs" fill="#000">I</text>
<text x="1194.69" y="59.6" font-size="30.5" text-anchor="middle" textLength="20.44" lengthAdjust="spacingAndGlyphs" fill="#000">N</text>
<text x="1238.92" y="59.6" font-size="30.5" text-anchor="middle" textLength="19.62" lengthAdjust="spacingAndGlyphs" fill="#000">H</text>
<text x="1284.15" y="59.6" font-size="30.5" text-anchor="middle" textLength="18.94" lengthAdjust="spacingAndGlyphs" fill="#000">G</text>
<text x="133" y="613.4" font-size="33.5" text-anchor="end" textLength="55.56" lengthAdjust="spacingAndGlyphs" fill="#262626">-0.8</text>
<text x="133" y="550.75" font-size="33.5" text-anchor="end" textLength="55.56" lengthAdjust="spacingAndGlyphs" fill="#262626">-0.6</text>
<text x="133" y="488.1" font-size="33.5" text-anchor="end" textLength="55.56" lengthAdjust="spacingAndGlyphs" fill="#262626">-0.4</text>
<text x="133" y="425.45" font-size="33.5" text-anchor="end" textLength="55.56" lengthAdjust="spacingAndGlyphs" fill="#262626">-0.2</text>
<text x="132.75" y="362.8" font-size="33.5" text-anchor="end" textLength="17.76" lengthAdjust="spacingAndGlyphs" fill="#262626">0</text>
<text x="133.9" y="300.15" font-size="33.5" text-anchor="end" textLength="45.15" lengthAdjust="spacingAndGlyphs" fill="#262626">0.2</text>
<text x="133.9" y="237.5" font-size="33.5" text-anchor="end" textLength="45.15" lengthAdjust="spacingAndGlyphs" fill="#262626">0.4</text>
<text x="133.9" y="174.85" font-size="33.5" text-anchor="end" textLength="45.15" lengthAdjust="spacingAndGlyphs" fill="#262626">0.6</text>
<text x="133.9" y="112.2" font-size="33.5" text-anchor="end" textLength="45.15" lengthAdjust="spacingAndGlyphs" fill="#262626">0.8</text>
<text x="229.5" y="642.4" font-size="31.4" textLength="45.80" lengthAdjust="spacingAndGlyphs" fill="#262626">EE<tspan font-family="'Liberation Serif'" font-size="34">I</tspan></text>
<text x="365.5" y="640.4" font-size="31.4" textLength="18.71" lengthAdjust="spacingAndGlyphs" fill="#262626">=</text>
<text x="587" y="640.9" font-size="31.4" textLength="18.48" lengthAdjust="spacingAndGlyphs" fill="#262626">+</text>
<text x="446.8" y="642.4" font-size="31.4" font-family="'Liberation Serif'" font-style="italic" textLength="18.48" lengthAdjust="spacingAndGlyphs" fill="#262626">α</text>
<path d="M469.1,642.5 L480,619.3 L481.9,619.3 L492.8,642.5 Z M471.6,640.2 L488.4,640.2 L480.0,622.3 Z" fill="#262626" fill-rule="evenodd"/>
<text x="493.95" y="642.4" font-size="31.4" textLength="18.04" lengthAdjust="spacingAndGlyphs" fill="#262626">T</text>
<text x="511.6" y="658.3" font-size="26" textLength="12.22" lengthAdjust="spacingAndGlyphs" fill="#262626">s</text>
<text x="703.1" y="642.4" font-size="31.4" textLength="52.39" lengthAdjust="spacingAndGlyphs" fill="#262626">ERF</text>
<text x="919.8" y="642.4" font-size="31.4" textLength="53.90" lengthAdjust="spacingAndGlyphs" fill="#262626">ERF</text>
<text x="971.6" y="658.3" font-size="26" textLength="53.32" lengthAdjust="spacingAndGlyphs" fill="#262626">aero</text>
<text x="1158.6" y="642.4" font-size="31.4" textLength="52.42" lengthAdjust="spacingAndGlyphs" fill="#262626">ERF</text>
<text x="1210.7" y="658.3" font-size="26" textLength="62.93" lengthAdjust="spacingAndGlyphs" fill="#262626">other</text>
<text transform="translate(63.8,458.3) rotate(-90)" font-size="37" textLength="55.74" lengthAdjust="spacingAndGlyphs" fill="#262626">Net</text>
<text transform="translate(63.8,392.8) rotate(-90)" font-size="37" textLength="42.65" lengthAdjust="spacingAndGlyphs" fill="#262626">(W</text>
<text transform="translate(63.8,340.3) rotate(-90)" font-size="37" textLength="30.22" lengthAdjust="spacingAndGlyphs" fill="#262626">m</text>
<text transform="translate(46.1,308.3) rotate(-90)" font-size="29.5" textLength="24.85" lengthAdjust="spacingAndGlyphs" fill="#262626">-2</text>
<text transform="translate(63.8,272.6) rotate(-90)" font-size="37" textLength="54.97" lengthAdjust="spacingAndGlyphs" fill="#262626">dec</text>
<text transform="translate(46.1,216.1) rotate(-90)" font-size="29.5" textLength="19.38" lengthAdjust="spacingAndGlyphs" fill="#262626">-1</text>
<text transform="translate(63.8,191.4) rotate(-90)" font-size="37" textLength="11.19" lengthAdjust="spacingAndGlyphs" fill="#262626">)</text>
<text x="580.1" y="718" font-size="35" font-weight="bold" textLength="333.95" lengthAdjust="spacingAndGlyphs" fill="#000">SW trend 2001-2019</text>
<text x="-0.9" y="714.1" font-size="34.5" font-weight="bold" textLength="19.24" lengthAdjust="spacingAndGlyphs" fill="#000">b</text>
<text x="175.4" y="750.9" font-size="30.5" text-anchor="middle" textLength="16.42" lengthAdjust="spacingAndGlyphs" fill="#000">C</text>
<text x="219.68" y="750.9" font-size="30.5" font-family="'Liberation Serif'" text-anchor="middle" textLength="9.62" lengthAdjust="spacingAndGlyphs" fill="#000">I</text>
<text x="263.76" y="750.9" font-size="30.5" text-anchor="middle" textLength="20.44" lengthAdjust="spacingAndGlyphs" fill="#000">N</text>
<text x="307.99" y="750.9" font-size="30.5" text-anchor="middle" textLength="19.62" lengthAdjust="spacingAndGlyphs" fill="#000">H</text>
<text x="353.22" y="750.9" font-size="30.5" text-anchor="middle" textLength="18.94" lengthAdjust="spacingAndGlyphs" fill="#000">G</text>
<text x="397.05" y="750.9" font-size="30.5" text-anchor="middle" textLength="16.42" lengthAdjust="spacingAndGlyphs" fill="#000">C</text>
<text x="441.33" y="750.9" font-size="30.5" font-family="'Liberation Serif'" text-anchor="middle" textLength="9.62" lengthAdjust="spacingAndGlyphs" fill="#000">I</text>
<text x="485.41" y="750.9" font-size="30.5" text-anchor="middle" textLength="20.44" lengthAdjust="spacingAndGlyphs" fill="#000">N</text>
<text x="529.64" y="750.9" font-size="30.5" text-anchor="middle" textLength="19.62" lengthAdjust="spacingAndGlyphs" fill="#000">H</text>
<text x="574.87" y="750.9" font-size="30.5" text-anchor="middle" textLength="18.94" lengthAdjust="spacingAndGlyphs" fill="#000">G</text>
<text x="618.7" y="750.9" font-size="30.5" text-anchor="middle" textLength="16.42" lengthAdjust="spacingAndGlyphs" fill="#000">C</text>
<text x="662.98" y="750.9" font-size="30.5" font-family="'Liberation Serif'" text-anchor="middle" textLength="9.62" lengthAdjust="spacingAndGlyphs" fill="#000">I</text>
<text x="707.06" y="750.9" font-size="30.5" text-anchor="middle" textLength="20.44" lengthAdjust="spacingAndGlyphs" fill="#000">N</text>
<text x="751.29" y="750.9" font-size="30.5" text-anchor="middle" textLength="19.62" lengthAdjust="spacingAndGlyphs" fill="#000">H</text>
<text x="796.52" y="750.9" font-size="30.5" text-anchor="middle" textLength="18.94" lengthAdjust="spacingAndGlyphs" fill="#000">G</text>
<text x="884.68" y="750.9" font-size="30.5" text-anchor="middle" textLength="16.42" lengthAdjust="spacingAndGlyphs" fill="#000">C</text>
<text x="928.96" y="750.9" font-size="30.5" font-family="'Liberation Serif'" text-anchor="middle" textLength="9.62" lengthAdjust="spacingAndGlyphs" fill="#000">I</text>
<text x="973.04" y="750.9" font-size="30.5" text-anchor="middle" textLength="20.44" lengthAdjust="spacingAndGlyphs" fill="#000">N</text>
<text x="1017.27" y="750.9" font-size="30.5" text-anchor="middle" textLength="19.62" lengthAdjust="spacingAndGlyphs" fill="#000">H</text>
<text x="1062.5" y="750.9" font-size="30.5" text-anchor="middle" textLength="18.94" lengthAdjust="spacingAndGlyphs" fill="#000">G</text>
<text x="1106.33" y="750.9" font-size="30.5" text-anchor="middle" textLength="16.42" lengthAdjust="spacingAndGlyphs" fill="#000">C</text>
<text x="1150.61" y="750.9" font-size="30.5" font-family="'Liberation Serif'" text-anchor="middle" textLength="9.62" lengthAdjust="spacingAndGlyphs" fill="#000">I</text>
<text x="1194.69" y="750.9" font-size="30.5" text-anchor="middle" textLength="20.44" lengthAdjust="spacingAndGlyphs" fill="#000">N</text>
<text x="1238.92" y="750.9" font-size="30.5" text-anchor="middle" textLength="19.62" lengthAdjust="spacingAndGlyphs" fill="#000">H</text>
<text x="1284.15" y="750.9" font-size="30.5" text-anchor="middle" textLength="18.94" lengthAdjust="spacingAndGlyphs" fill="#000">G</text>
<text x="133" y="1304.7" font-size="33.5" text-anchor="end" textLength="55.56" lengthAdjust="spacingAndGlyphs" fill="#262626">-0.8</text>
<text x="133" y="1242.05" font-size="33.5" text-anchor="end" textLength="55.56" lengthAdjust="spacingAndGlyphs" fill="#262626">-0.6</text>
<text x="133" y="1179.4" font-size="33.5" text-anchor="end" textLength="55.56" lengthAdjust="spacingAndGlyphs" fill="#262626">-0.4</text>
<text x="133" y="1116.75" font-size="33.5" text-anchor="end" textLength="55.56" lengthAdjust="spacingAndGlyphs" fill="#262626">-0.2</text>
<text x="132.75" y="1054.1" font-size="33.5" text-anchor="end" textLength="17.76" lengthAdjust="spacingAndGlyphs" fill="#262626">0</text>
<text x="133.9" y="991.45" font-size="33.5" text-anchor="end" textLength="45.15" lengthAdjust="spacingAndGlyphs" fill="#262626">0.2</text>
<text x="133.9" y="928.8" font-size="33.5" text-anchor="end" textLength="45.15" lengthAdjust="spacingAndGlyphs" fill="#262626">0.4</text>
<text x="133.9" y="866.15" font-size="33.5" text-anchor="end" textLength="45.15" lengthAdjust="spacingAndGlyphs" fill="#262626">0.6</text>
<text x="133.9" y="803.5" font-size="33.5" text-anchor="end" textLength="45.15" lengthAdjust="spacingAndGlyphs" fill="#262626">0.8</text>
<text x="216.5" y="1333.7" font-size="31.4" textLength="73.63" lengthAdjust="spacingAndGlyphs" fill="#262626">Total</text>
<text x="365.5" y="1331.7" font-size="31.4" textLength="18.71" lengthAdjust="spacingAndGlyphs" fill="#262626">=</text>
<text x="587" y="1332.2" font-size="31.4" textLength="18.48" lengthAdjust="spacingAndGlyphs" fill="#262626">+</text>
<text x="446.8" y="1333.7" font-size="31.4" font-family="'Liberation Serif'" font-style="italic" textLength="18.48" lengthAdjust="spacingAndGlyphs" fill="#262626">α</text>
<path d="M469.1,1333.8 L480,1310.6 L481.9,1310.6 L492.8,1333.8 Z M471.6,1331.5 L488.4,1331.5 L480.0,1313.6 Z" fill="#262626" fill-rule="evenodd"/>
<text x="493.95" y="1333.7" font-size="31.4" textLength="18.04" lengthAdjust="spacingAndGlyphs" fill="#262626">T</text>
<text x="511.6" y="1349.6" font-size="26" textLength="12.22" lengthAdjust="spacingAndGlyphs" fill="#262626">s</text>
<text x="703.1" y="1333.7" font-size="31.4" textLength="52.39" lengthAdjust="spacingAndGlyphs" fill="#262626">ERF</text>
<text x="919.8" y="1333.7" font-size="31.4" textLength="53.90" lengthAdjust="spacingAndGlyphs" fill="#262626">ERF</text>
<text x="971.6" y="1349.6" font-size="26" textLength="53.32" lengthAdjust="spacingAndGlyphs" fill="#262626">aero</text>
<text x="1158.6" y="1333.7" font-size="31.4" textLength="52.42" lengthAdjust="spacingAndGlyphs" fill="#262626">ERF</text>
<text x="1210.7" y="1349.6" font-size="26" textLength="62.93" lengthAdjust="spacingAndGlyphs" fill="#262626">other</text>
<text transform="translate(63.8,1146.2) rotate(-90)" font-size="37" textLength="49.24" lengthAdjust="spacingAndGlyphs" fill="#262626">SW</text>
<text transform="translate(63.8,1088) rotate(-90)" font-size="37" textLength="42.65" lengthAdjust="spacingAndGlyphs" fill="#262626">(W</text>
<text transform="translate(63.8,1035.5) rotate(-90)" font-size="37" textLength="30.22" lengthAdjust="spacingAndGlyphs" fill="#262626">m</text>
<text transform="translate(46.1,1003.5) rotate(-90)" font-size="29.5" textLength="24.85" lengthAdjust="spacingAndGlyphs" fill="#262626">-2</text>
<text transform="translate(63.8,967.8) rotate(-90)" font-size="37" textLength="54.97" lengthAdjust="spacingAndGlyphs" fill="#262626">dec</text>
<text transform="translate(46.1,911.3) rotate(-90)" font-size="29.5" textLength="19.38" lengthAdjust="spacingAndGlyphs" fill="#262626">-1</text>
<text transform="translate(63.8,886.6) rotate(-90)" font-size="37" textLength="11.19" lengthAdjust="spacingAndGlyphs" fill="#262626">)</text>
<text x="579.9" y="1409.3" font-size="35" font-weight="bold" textLength="333.70" lengthAdjust="spacingAndGlyphs" fill="#000">LW trend 2001-2019</text>
<text x="-0.5" y="1405.4" font-size="34.5" font-weight="bold" textLength="15.47" lengthAdjust="spacingAndGlyphs" fill="#000">c</text>
<text x="175.4" y="1442.2" font-size="30.5" text-anchor="middle" textLength="16.42" lengthAdjust="spacingAndGlyphs" fill="#000">C</text>
<text x="219.68" y="1442.2" font-size="30.5" font-family="'Liberation Serif'" text-anchor="middle" textLength="9.62" lengthAdjust="spacingAndGlyphs" fill="#000">I</text>
<text x="263.76" y="1442.2" font-size="30.5" text-anchor="middle" textLength="20.44" lengthAdjust="spacingAndGlyphs" fill="#000">N</text>
<text x="307.99" y="1442.2" font-size="30.5" text-anchor="middle" textLength="19.62" lengthAdjust="spacingAndGlyphs" fill="#000">H</text>
<text x="353.22" y="1442.2" font-size="30.5" text-anchor="middle" textLength="18.94" lengthAdjust="spacingAndGlyphs" fill="#000">G</text>
<text x="397.05" y="1442.2" font-size="30.5" text-anchor="middle" textLength="16.42" lengthAdjust="spacingAndGlyphs" fill="#000">C</text>
<text x="441.33" y="1442.2" font-size="30.5" font-family="'Liberation Serif'" text-anchor="middle" textLength="9.62" lengthAdjust="spacingAndGlyphs" fill="#000">I</text>
<text x="485.41" y="1442.2" font-size="30.5" text-anchor="middle" textLength="20.44" lengthAdjust="spacingAndGlyphs" fill="#000">N</text>
<text x="529.64" y="1442.2" font-size="30.5" text-anchor="middle" textLength="19.62" lengthAdjust="spacingAndGlyphs" fill="#000">H</text>
<text x="574.87" y="1442.2" font-size="30.5" text-anchor="middle" textLength="18.94" lengthAdjust="spacingAndGlyphs" fill="#000">G</text>
<text x="618.7" y="1442.2" font-size="30.5" text-anchor="middle" textLength="16.42" lengthAdjust="spacingAndGlyphs" fill="#000">C</text>
<text x="662.98" y="1442.2" font-size="30.5" font-family="'Liberation Serif'" text-anchor="middle" textLength="9.62" lengthAdjust="spacingAndGlyphs" fill="#000">I</text>
<text x="707.06" y="1442.2" font-size="30.5" text-anchor="middle" textLength="20.44" lengthAdjust="spacingAndGlyphs" fill="#000">N</text>
<text x="751.29" y="1442.2" font-size="30.5" text-anchor="middle" textLength="19.62" lengthAdjust="spacingAndGlyphs" fill="#000">H</text>
<text x="796.52" y="1442.2" font-size="30.5" text-anchor="middle" textLength="18.94" lengthAdjust="spacingAndGlyphs" fill="#000">G</text>
<text x="884.68" y="1442.2" font-size="30.5" text-anchor="middle" textLength="16.42" lengthAdjust="spacingAndGlyphs" fill="#000">C</text>
<text x="928.96" y="1442.2" font-size="30.5" font-family="'Liberation Serif'" text-anchor="middle" textLength="9.62" lengthAdjust="spacingAndGlyphs" fill="#000">I</text>
<text x="973.04" y="1442.2" font-size="30.5" text-anchor="middle" textLength="20.44" lengthAdjust="spacingAndGlyphs" fill="#000">N</text>
<text x="1017.27" y="1442.2" font-size="30.5" text-anchor="middle" textLength="19.62" lengthAdjust="spacingAndGlyphs" fill="#000">H</text>
<text x="1062.5" y="1442.2" font-size="30.5" text-anchor="middle" textLength="18.94" lengthAdjust="spacingAndGlyphs" fill="#000">G</text>
<text x="1106.33" y="1442.2" font-size="30.5" text-anchor="middle" textLength="16.42" lengthAdjust="spacingAndGlyphs" fill="#000">C</text>
<text x="1150.61" y="1442.2" font-size="30.5" font-family="'Liberation Serif'" text-anchor="middle" textLength="9.62" lengthAdjust="spacingAndGlyphs" fill="#000">I</text>
<text x="1194.69" y="1442.2" font-size="30.5" text-anchor="middle" textLength="20.44" lengthAdjust="spacingAndGlyphs" fill="#000">N</text>
<text x="1238.92" y="1442.2" font-size="30.5" text-anchor="middle" textLength="19.62" lengthAdjust="spacingAndGlyphs" fill="#000">H</text>
<text x="1284.15" y="1442.2" font-size="30.5" text-anchor="middle" textLength="18.94" lengthAdjust="spacingAndGlyphs" fill="#000">G</text>
<text x="133" y="1996" font-size="33.5" text-anchor="end" textLength="55.56" lengthAdjust="spacingAndGlyphs" fill="#262626">-0.8</text>
<text x="133" y="1933.35" font-size="33.5" text-anchor="end" textLength="55.56" lengthAdjust="spacingAndGlyphs" fill="#262626">-0.6</text>
<text x="133" y="1870.7" font-size="33.5" text-anchor="end" textLength="55.56" lengthAdjust="spacingAndGlyphs" fill="#262626">-0.4</text>
<text x="133" y="1808.05" font-size="33.5" text-anchor="end" textLength="55.56" lengthAdjust="spacingAndGlyphs" fill="#262626">-0.2</text>
<text x="132.75" y="1745.4" font-size="33.5" text-anchor="end" textLength="17.76" lengthAdjust="spacingAndGlyphs" fill="#262626">0</text>
<text x="133.9" y="1682.75" font-size="33.5" text-anchor="end" textLength="45.15" lengthAdjust="spacingAndGlyphs" fill="#262626">0.2</text>
<text x="133.9" y="1620.1" font-size="33.5" text-anchor="end" textLength="45.15" lengthAdjust="spacingAndGlyphs" fill="#262626">0.4</text>
<text x="133.9" y="1557.45" font-size="33.5" text-anchor="end" textLength="45.15" lengthAdjust="spacingAndGlyphs" fill="#262626">0.6</text>
<text x="133.9" y="1494.8" font-size="33.5" text-anchor="end" textLength="45.15" lengthAdjust="spacingAndGlyphs" fill="#262626">0.8</text>
<text x="216.5" y="2025" font-size="31.4" textLength="73.63" lengthAdjust="spacingAndGlyphs" fill="#262626">Total</text>
<text x="365.5" y="2023" font-size="31.4" textLength="18.71" lengthAdjust="spacingAndGlyphs" fill="#262626">=</text>
<text x="587" y="2023.5" font-size="31.4" textLength="18.48" lengthAdjust="spacingAndGlyphs" fill="#262626">+</text>
<text x="446.8" y="2025" font-size="31.4" font-family="'Liberation Serif'" font-style="italic" textLength="18.48" lengthAdjust="spacingAndGlyphs" fill="#262626">α</text>
<path d="M469.1,2025.1 L480,2001.9 L481.9,2001.9 L492.8,2025.1 Z M471.6,2022.8 L488.4,2022.8 L480.0,2004.9 Z" fill="#262626" fill-rule="evenodd"/>
<text x="493.95" y="2025" font-size="31.4" textLength="18.04" lengthAdjust="spacingAndGlyphs" fill="#262626">T</text>
<text x="511.6" y="2040.9" font-size="26" textLength="12.22" lengthAdjust="spacingAndGlyphs" fill="#262626">s</text>
<text x="703.1" y="2025" font-size="31.4" textLength="52.39" lengthAdjust="spacingAndGlyphs" fill="#262626">ERF</text>
<text x="919.8" y="2025" font-size="31.4" textLength="53.90" lengthAdjust="spacingAndGlyphs" fill="#262626">ERF</text>
<text x="971.6" y="2040.9" font-size="26" textLength="53.32" lengthAdjust="spacingAndGlyphs" fill="#262626">aero</text>
<text x="1158.6" y="2025" font-size="31.4" textLength="52.42" lengthAdjust="spacingAndGlyphs" fill="#262626">ERF</text>
<text x="1210.7" y="2040.9" font-size="26" textLength="62.93" lengthAdjust="spacingAndGlyphs" fill="#262626">other</text>
<text transform="translate(63.8,1836.6) rotate(-90)" font-size="37" textLength="48.28" lengthAdjust="spacingAndGlyphs" fill="#262626">LW</text>
<text transform="translate(63.8,1779.6) rotate(-90)" font-size="37" textLength="42.65" lengthAdjust="spacingAndGlyphs" fill="#262626">(W</text>
<text transform="translate(63.8,1727.1) rotate(-90)" font-size="37" textLength="30.22" lengthAdjust="spacingAndGlyphs" fill="#262626">m</text>
<text transform="translate(46.1,1695.1) rotate(-90)" font-size="29.5" textLength="24.85" lengthAdjust="spacingAndGlyphs" fill="#262626">-2</text>
<text transform="translate(63.8,1659.4) rotate(-90)" font-size="37" textLength="54.97" lengthAdjust="spacingAndGlyphs" fill="#262626">dec</text>
<text transform="translate(46.1,1602.9) rotate(-90)" font-size="29.5" textLength="19.38" lengthAdjust="spacingAndGlyphs" fill="#262626">-1</text>
<text transform="translate(63.8,1578.2) rotate(-90)" font-size="37" textLength="11.19" lengthAdjust="spacingAndGlyphs" fill="#262626">)</text>
<text x="227.8" y="398.9" font-size="23.5" textLength="131.06" lengthAdjust="spacingAndGlyphs" fill="#000">CERES / AR6</text>
<text x="226.9" y="428.7" font-size="23.5" textLength="137.36" lengthAdjust="spacingAndGlyphs" fill="#000">Model mean</text>
<text x="227.3" y="458.5" font-size="23.5" textLength="74.47" lengthAdjust="spacingAndGlyphs" fill="#000">CESM2</text>
<text x="227.4" y="488.3" font-size="23.5" textLength="119.70" lengthAdjust="spacingAndGlyphs" fill="#000"><tspan font-family="'Liberation Serif'" font-size="25.6">I</tspan>CON-HAM</text>
<text x="227.1" y="518.1" font-size="23.5" textLength="101.07" lengthAdjust="spacingAndGlyphs" fill="#000">NorESM2</text>
<text x="226.9" y="547.9" font-size="23.5" textLength="108.50" lengthAdjust="spacingAndGlyphs" fill="#000">HadGEM3</text>
<text x="228" y="577.7" font-size="23.5" textLength="112.35" lengthAdjust="spacingAndGlyphs" fill="#000">GFDL AM4</text>
</svg></body></html>
